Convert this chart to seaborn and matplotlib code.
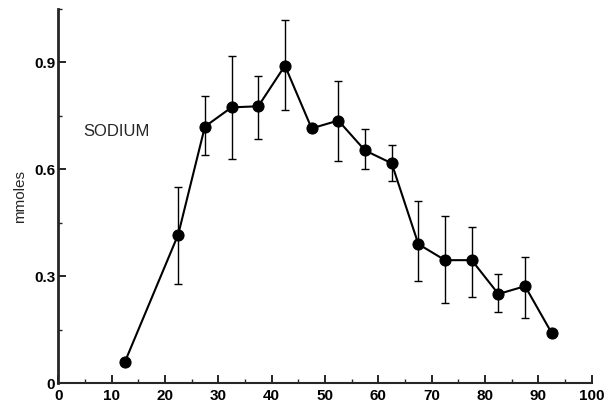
import matplotlib
matplotlib.use("Agg")
import matplotlib.pyplot as plt
import seaborn as sns
import numpy as np
import pandas as pd
from matplotlib.ticker import MultipleLocator

# Data
x_vals = [12.5, 22.5, 27.5, 32.5, 37.5, 42.5, 47.5, 52.5, 57.5, 62.5,
          67.5, 72.5, 77.5, 82.5, 87.5, 92.5]
sodium = [0.059, 0.417, 0.72, 0.774, 0.777, 0.891, 0.715, 0.737, 0.653, 0.617,
          0.390, 0.345, 0.345, 0.250, 0.272, 0.14]
err_low = [np.nan, 0.277, 0.64, 0.63, 0.684, 0.766, np.nan, 0.622, 0.600, 0.566,
           0.286, 0.224, 0.241, 0.199, 0.182, np.nan]
err_high = [np.nan, 0.55, 0.805, 0.917, 0.863, 1.018, np.nan, 0.847, 0.712, 0.667,
            0.51, 0.468, 0.437, 0.306, 0.353, np.nan]
x_ticks = [0, 10, 20, 30, 40, 50, 60, 70, 80, 90, 100]
y_ticks = [0, 0.3, 0.6, 0.9]
y_tick_labels = ["0", "0.3", "0.6", "0.9"]

df = pd.DataFrame({"x": x_vals, "y": sodium, "lo": err_low, "hi": err_high})

sns.set_style("ticks")
plt.rcParams["font.family"] = ["Liberation Sans", "DejaVu Sans"]

fig = plt.figure(figsize=(6.12, 4.11), dpi=100)
ax = fig.add_axes([0.095, 0.068, 0.872, 0.91])

eb = df.dropna()
ax.errorbar(eb["x"], eb["y"], yerr=[eb["y"] - eb["lo"], eb["hi"] - eb["y"]],
            fmt="none", ecolor="black", elinewidth=1.0, capsize=3, capthick=1.0, zorder=2)
sns.lineplot(data=df, x="x", y="y", ax=ax, color="black", linewidth=1.5,
             marker="o", markersize=8, markeredgecolor="black", zorder=3)

ax.set_xlim(0, 100)
ax.set_ylim(0, 1.05)
ax.set_xticks(x_ticks)
ax.set_xticklabels([str(t) for t in x_ticks], fontsize=11, fontweight="bold")
ax.xaxis.set_minor_locator(MultipleLocator(5))
ax.set_yticks(y_ticks)
ax.set_yticklabels(y_tick_labels, fontsize=11, fontweight="bold")
ax.yaxis.set_minor_locator(MultipleLocator(0.15))
ax.tick_params(axis="both", which="major", direction="in", length=6, width=1.2, colors="black")
ax.tick_params(axis="both", which="minor", direction="in", length=3, width=1.0)
ax.tick_params(axis="x", pad=4)
ax.tick_params(axis="y", pad=2)

for s in ["top", "right"]:
    ax.spines[s].set_visible(False)
ax.spines["left"].set_linewidth(2.0)
ax.spines["bottom"].set_linewidth(1.5)

ax.set_xlabel("")
ax.set_ylabel("mmoles", fontsize=11, labelpad=5)
ax.text(4.7, 0.706, "SODIUM", fontsize=12, ha="left", va="center")

fig.savefig("out.png", dpi=100)
